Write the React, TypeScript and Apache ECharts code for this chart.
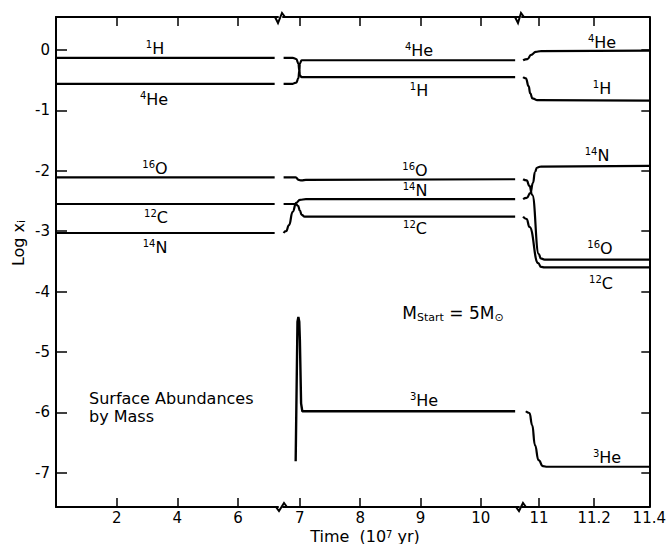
import React, { useEffect, useRef } from 'react';
import * as echarts from 'echarts';

const FONT = 'DejaVu Sans';

// Tick values
const yTicks = [0, -1, -2, -3, -4, -5, -6, -7];
const xTicksSeg1 = [2, 4, 6];
const xTicksSeg2 = [7, 8, 9, 10];
const xTicksSeg3 = [11, 11.2, 11.4];

// Segment 1 (0 – 7.2)
const H1_s1 = [[0, -0.13], [7.21, -0.13]];
const He4_s1 = [[0, -0.56], [7.21, -0.56]];
const O16_s1 = [[0, -2.11], [7.21, -2.11]];
const C12_s1 = [[0, -2.55], [7.21, -2.55]];
const N14_s1 = [[0, -3.03], [7.21, -3.03]];

// Segment 2 (6.7 – 10.6)
const H1_s2 = [[6.73, -0.13], [6.88, -0.13], [6.94, -0.15], [6.975, -0.22], [6.99, -0.33], [7.0, -0.42], [7.03, -0.45], [10.57, -0.45]];
const He4_s2 = [[6.73, -0.56], [6.88, -0.56], [6.94, -0.54], [6.975, -0.47], [6.99, -0.35], [7.0, -0.22], [7.03, -0.17], [10.57, -0.17]];
const O16_s2 = [[6.73, -2.11], [6.93, -2.11], [6.98, -2.15], [7.03, -2.16], [7.1, -2.15], [10.57, -2.14]];
const C12_s2 = [[6.73, -2.55], [6.93, -2.55], [6.97, -2.58], [7.0, -2.66], [7.03, -2.73], [7.08, -2.76], [10.57, -2.76]];
const N14_s2 = [[6.73, -3.03], [6.77, -3.0], [6.82, -2.9], [6.88, -2.68], [6.94, -2.53], [7.0, -2.48], [7.1, -2.47], [10.57, -2.47]];
const He3_s2 = [[6.93, -6.81], [6.96, -4.5], [6.975, -4.42], [6.99, -4.5], [7.0, -4.8], [7.02, -5.85], [7.04, -5.98], [10.57, -5.98]];

// Segment 3 (10.94 – 11.4)
const He4_s3 = [[10.942, -0.17], [10.958, -0.15], [10.971, -0.08], [10.988, -0.03], [11.005, -0.02], [11.4, -0.01]];
const H1_s3 = [[10.942, -0.45], [10.952, -0.47], [10.962, -0.6], [10.968, -0.72], [10.976, -0.8], [10.992, -0.83], [11.4, -0.84]];
const N14_s3 = [[10.942, -2.47], [10.955, -2.45], [10.968, -2.37], [10.978, -2.2], [10.985, -2.02], [10.992, -1.95], [11.005, -1.93], [11.4, -1.92]];
const O16_s3 = [[10.942, -2.14], [10.955, -2.16], [10.965, -2.25], [10.975, -2.4], [10.999, -3.38], [11.006, -3.45], [11.02, -3.47], [11.4, -3.47]];
const C12_s3 = [[10.942, -2.76], [10.955, -2.8], [10.965, -2.93], [10.997, -3.53], [11.007, -3.59], [11.02, -3.6], [11.4, -3.6]];
const He3_s3 = [[10.952, -5.98], [10.965, -6.01], [10.975, -6.21], [10.985, -6.54], [10.998, -6.79], [11.014, -6.89], [11.03, -6.9], [11.4, -6.9]];

// Isotope labels: [rich text, x px, y px]
const isoLabels: [string, number, number][] = [
  ['{s|1}H', 155, 48], ['{s|4}He', 154, 99], ['{s|16}O', 155, 168], ['{s|12}C', 156, 217], ['{s|14}N', 155, 247],
  ['{s|4}He', 419, 50], ['{s|1}H', 419, 90], ['{s|16}O', 415, 170], ['{s|14}N', 415, 190], ['{s|12}C', 415, 228], ['{s|3}He', 424, 400],
  ['{s|4}He', 602, 42], ['{s|1}H', 602, 88], ['{s|14}N', 597, 155], ['{s|16}O', 600, 248], ['{s|12}C', 601, 283], ['{s|3}He', 607, 457],
];

const Y_MIN = -7.566;
const Y_MAX = 0.546;

export default function App() {
  const ref = useRef<HTMLDivElement>(null);
  useEffect(() => {
    const chart = echarts.init(ref.current!, null, { renderer: 'svg' });
    const black = '#000';

    const xAxis = (gi: number, min: number, max: number, ticks: number[], pos: 'top' | 'bottom') => ({
      type: 'value', gridIndex: gi, position: pos, min, max,
      axisLine: { show: true, onZero: false, lineStyle: { color: black, width: 2 } },
      axisTick: { show: true, inside: true, length: 9, customValues: ticks, lineStyle: { color: black, width: 1.5 } },
      axisLabel: {
        show: pos === 'bottom', customValues: ticks, color: black, fontSize: 15, fontFamily: FONT, margin: 4,
        lineHeight: 13,
      },
      splitLine: { show: false },
    });

    const grids = [
      { left: 56, top: 17, width: 222, height: 490 },
      { left: 283, top: 17, width: 236, height: 490 },
      { left: 522, top: 17, width: 139, height: 490 },
    ];
    const ranges: [number, number, number[]][] = [
      [0, 7.32, xTicksSeg1],
      [6.72, 10.634, xTicksSeg2],
      [10.938, 11.4, xTicksSeg3],
    ];

    const xAxes: any[] = [];
    ranges.forEach((r, i) => xAxes.push(xAxis(i, r[0], r[1], r[2], 'bottom')));
    ranges.forEach((r, i) => xAxes.push(xAxis(i, r[0], r[1], r[2], 'top')));

    const yAxes: any[] = [
      {
        type: 'value', gridIndex: 0, position: 'left', min: Y_MIN, max: Y_MAX,
        axisLine: { show: true, onZero: false, lineStyle: { color: black, width: 2 } },
        axisTick: { show: true, inside: true, length: 11, customValues: yTicks, lineStyle: { color: black, width: 1.5 } },
        axisLabel: { show: true, customValues: yTicks, color: black, fontSize: 15, fontFamily: FONT, margin: 6 },
        splitLine: { show: false },
      },
      { type: 'value', gridIndex: 1, min: Y_MIN, max: Y_MAX, show: false, splitLine: { show: false } },
      {
        type: 'value', gridIndex: 2, position: 'right', min: Y_MIN, max: Y_MAX,
        axisLine: { show: true, onZero: false, lineStyle: { color: black, width: 2 } },
        axisTick: { show: true, inside: true, length: 8, customValues: yTicks, lineStyle: { color: black, width: 1.5 } },
        axisLabel: { show: false },
        splitLine: { show: false },
      },
    ];

    const line = (data: number[][], seg: number, smooth: boolean | number = 0.5, width = 2.2) => ({
      type: 'line', xAxisIndex: seg, yAxisIndex: seg, data, showSymbol: false, symbol: 'none',
      smooth, smoothMonotone: 'x', silent: true,
      lineStyle: { color: black, width },
    });

    const series = [
      line(H1_s1, 0, false), line(He4_s1, 0, false), line(O16_s1, 0, false), line(C12_s1, 0, false), line(N14_s1, 0, false),
      line(H1_s2, 1), line(He4_s2, 1), line(O16_s2, 1), line(C12_s2, 1), line(N14_s2, 1), line(He3_s2, 1, false, 2.4),
      line(He4_s3, 2), line(H1_s3, 2), line(N14_s3, 2), line(O16_s3, 2), line(C12_s3, 2), line(He3_s3, 2),
    ];

    const supRich = {
      s: { fontSize: 10, fontFamily: FONT, lineHeight: 8, verticalAlign: 'top', fill: black },
    };

    const zig = (pts: number[][]) => ({
      type: 'polyline', shape: { points: pts }, z: 100,
      style: { stroke: black, lineWidth: 2, fill: 'none' },
    });

    const graphic: any[] = [
      zig([[276, 507], [279, 511], [284, 503], [287, 507]]),
      zig([[275, 17], [278, 23], [282, 13], [285, 17]]),
      zig([[516, 507], [519, 511], [523, 503], [526, 507]]),
      zig([[515, 17], [518, 23], [521, 13], [524, 17]]),
      ...isoLabels.map(([t, x, y]) => ({
        type: 'text', x, y, z: 100,
        style: {
          text: t, fontSize: 16, fontFamily: FONT, fill: black, lineHeight: 18,
          align: 'center', verticalAlign: 'middle', rich: supRich,
        },
      })),
      {
        type: 'text', x: 89, y: 389, z: 100,
        style: {
          text: 'Surface Abundances\nby Mass', fontSize: 16, fontFamily: FONT, fill: black, lineHeight: 18,
          align: 'left', verticalAlign: 'top',
        },
      },
      {
        type: 'text', x: 453, y: 313, z: 100,
        style: {
          text: 'M{b|Start} = 5M{b|⊙}', fontSize: 17, fontFamily: FONT, fill: black, lineHeight: 20,
          align: 'center', verticalAlign: 'middle',
          rich: { b: { fontSize: 11, fontFamily: FONT, lineHeight: 12, verticalAlign: 'bottom', fill: black } },
        },
      },
      {
        type: 'text', x: 365, y: 536, z: 100,
        style: {
          text: 'Time  (10{s|7} yr)', fontSize: 16, fontFamily: FONT, fill: black, lineHeight: 14,
          align: 'center', verticalAlign: 'middle',
          rich: { s: { fontSize: 10, fontFamily: FONT, lineHeight: 6, verticalAlign: 'top', fill: black } },
        },
      },
      {
        type: 'text', x: 18, y: 243, rotation: Math.PI / 2, z: 100,
        style: {
          text: 'Log x{i|i}', fontSize: 16, fontFamily: FONT, fill: black, lineHeight: 18,
          align: 'center', verticalAlign: 'middle',
          rich: { i: { fontSize: 11, fontFamily: FONT, lineHeight: 12, verticalAlign: 'bottom', fill: black } },
        },
      },
    ];

    chart.setOption({
      animation: false,
      backgroundColor: '#fff',
      textStyle: { fontFamily: FONT },
      grid: grids,
      xAxis: xAxes,
      yAxis: yAxes,
      series,
      graphic,
    });
    return () => chart.dispose();
  }, []);
  return (
    <div
      ref={ref}
      style={{ position: 'fixed', left: 0, top: 0, width: 669, height: 544, background: '#fff' }}
    />
  );
}
